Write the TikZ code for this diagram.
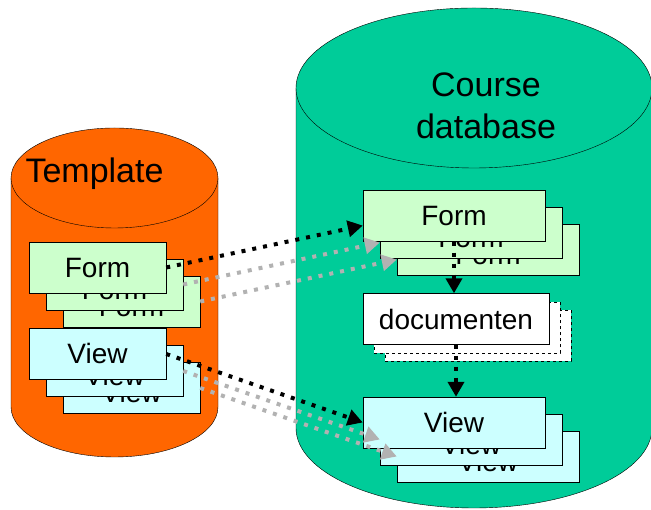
\documentclass[tikz,border=0pt]{standalone}
\usepackage{fontspec}
\setmainfont{Liberation Sans}
\usetikzlibrary{arrows.meta}
\definecolor{tplorange}{RGB}{255,102,0}
\definecolor{dbgreen}{RGB}{0,204,153}
\definecolor{formgreen}{RGB}{204,255,204}
\definecolor{viewcyan}{RGB}{204,255,255}
\definecolor{linkgray}{RGB}{178,178,178}
\begin{document}
\begin{tikzpicture}[x=1pt, y=1pt,
    box/.style={draw, thin, minimum height=51pt, inner sep=0pt, font=\fontsize{28}{28}\selectfont},
    formbox/.style={box, fill=formgreen},
    viewbox/.style={box, fill=viewcyan},
    docbox/.style={box, fill=white, minimum width=186pt},
    link/.style={line width=4pt, dash pattern=on 4pt off 7pt, -{Triangle[length=15pt,width=16pt]}},
    title/.style={font=\fontsize{34}{42}\selectfont}]
    \useasboundingbox (0,0) rectangle (651,510);
    % Template cylinder
    \fill[tplorange] (11,332) -- (11,103) arc[start angle=180, end angle=360, x radius=103.5, y radius=50] -- (218,332) -- cycle;
    \draw (11,332) -- (11,103) arc[start angle=180, end angle=360, x radius=103.5, y radius=50] -- (218,332);
    \draw[fill=tplorange] (114.5,332) ellipse [x radius=103.5, y radius=50];
    \node[title, anchor=base west] (tpl) at (22,327) {Template};
    % Course database cylinder
    \fill[dbgreen] (296,422) -- (296,82) arc[start angle=180, end angle=360, x radius=178, y radius=80] -- (652,422) -- cycle;
    \draw (296,422) -- (296,82) arc[start angle=180, end angle=360, x radius=178, y radius=80] -- (652,422);
    \draw[fill=dbgreen] (474,422) ellipse [x radius=178, y radius=80];
    \node[title, align=center] (db) at (486,404) {Course\\database};
    % stacks of forms and views (text of the back copies sits lower)
    \foreach \i/\d/\s in {3/34/15,2/17/15,1/0/10} {
        \node[formbox, minimum width=137pt] (lf\i) at (97.5+\d, 242.5-\d) {\smash{\raisebox{-\s pt}{Form}}};
        \node[viewbox, minimum width=137pt] (lv\i) at (97.5+\d, 156-\d) {\smash{\raisebox{-\s pt}{View}}};
        \node[formbox, minimum width=182pt] (rf\i) at (454+\d, 294-\d) {\smash{\raisebox{-\s pt}{Form}}};
        \node[viewbox, minimum width=182pt] (rv\i) at (454+\d, 87.5-\d) {\smash{\raisebox{-\s pt}{View}}};
    }
    % documents
    \foreach \i/\dx/\dy in {3/22/17,2/11/9}
        \node[docbox, dashed] (doc\i) at (456+\dx, 191-\dy) {};
    \node[docbox] (doc1) at (456,191) {documenten};
    % copy links
    \draw[link, linkgray] (lf2.east) -- (rf2.186);
    \draw[link, linkgray] (lf3.east) -- (rf3.186);
    \draw[link, linkgray] (lv2.east) -- (rv2.west);
    \draw[link, linkgray] (lv3.east) -- (rv3.west);
    \draw[link] (lf1.east) -- (rf1.186);
    \draw[link] (lv1.east) -- (rv1.west);
    \draw[link] (rf1.south) -- (rf1.south |- doc1.north);
    \draw[link] (doc1.south) -- (doc1.south |- rv1.north);
\end{tikzpicture}
\end{document}
